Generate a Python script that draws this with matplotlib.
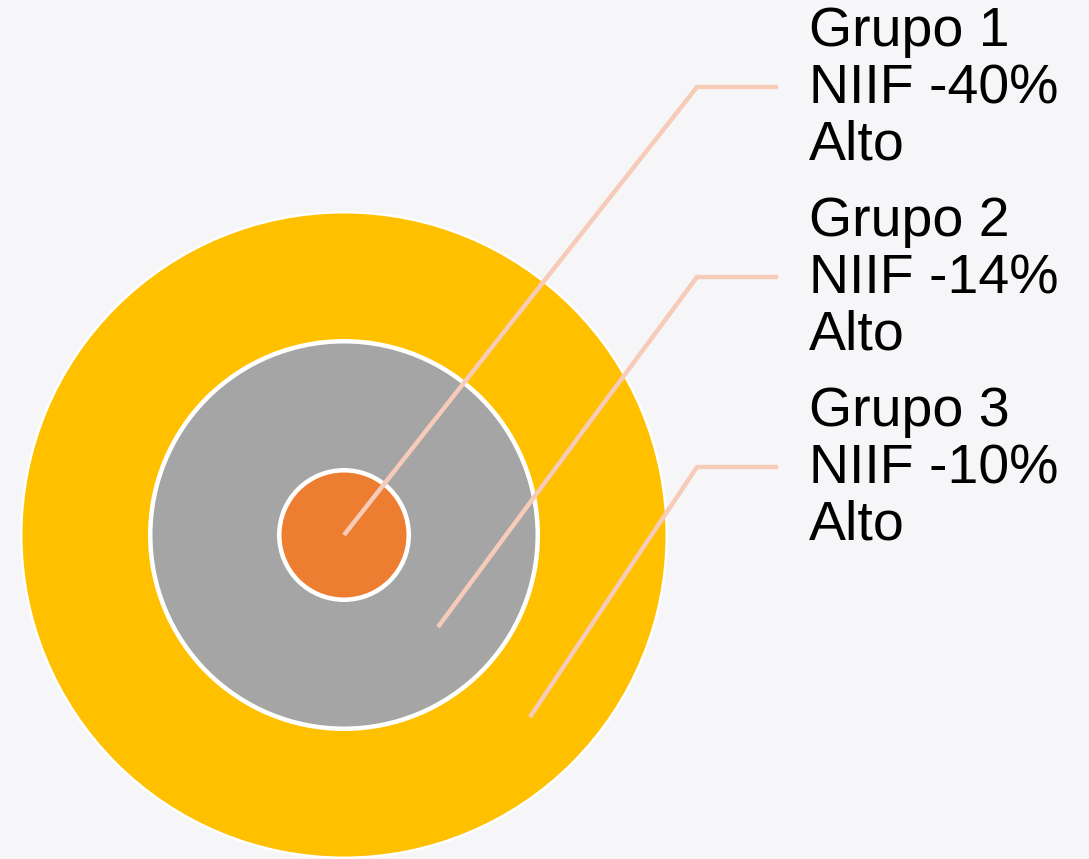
import matplotlib
matplotlib.use("Agg")
import matplotlib.pyplot as plt
from matplotlib.patches import Circle

# ---- data ----
groups = ["Grupo 1", "Grupo 2", "Grupo 3"]
niif = [-40, -14, -10]
levels = ["Alto", "Alto", "Alto"]
colors = ["#ED7D31", "#A5A5A5", "#FFC000"]

# ---- layout (pixel space) ----
W, H = 1089, 859
cx, cy = 344, 535
radii = [67, 196, 324]           # inner -> outer (incl. white rim)
rims = [4.5, 4.5, 2.5]
anchors = [(344, 535), (438, 627), (530, 717)]
elbow_x, end_x = 697, 778
label_x = 809
row_y0, group_gap, line_gap = 87, 190, 57
text_dy = 2

fig = plt.figure(figsize=(W / 100, H / 100), dpi=100)
fig.patch.set_facecolor("#F6F6F8")
ax = fig.add_axes([0, 0, 1, 1])
ax.set_xlim(0, W)
ax.set_ylim(H, 0)
ax.set_aspect("equal")
ax.axis("off")

# circles, outer first
for r, rim, c in reversed(list(zip(radii, rims, colors))):
    ax.add_patch(Circle((cx, cy), r, facecolor="white", edgecolor="none", zorder=1))
    ax.add_patch(Circle((cx, cy), r - rim, facecolor=c, edgecolor="none", zorder=1))

# leader lines and labels
for i, (g, v, lv) in enumerate(zip(groups, niif, levels)):
    ymid = row_y0 + i * group_gap
    ax0, ay0 = anchors[i]
    ax.plot([ax0, elbow_x, end_x], [ay0, ymid, ymid], color="#F6CBB8",
            lw=3.2, solid_capstyle="butt", solid_joinstyle="miter", zorder=3)
    lines = [g, f"NIIF {v}%", lv]
    for j, t in enumerate(lines):
        ax.text(label_x, ymid + text_dy + (j - 1) * line_gap, t, fontsize=40,
                family="Liberation Sans", color="black", ha="left", va="center",
                zorder=4)

fig.savefig("out.png", dpi=100, facecolor=fig.get_facecolor())
